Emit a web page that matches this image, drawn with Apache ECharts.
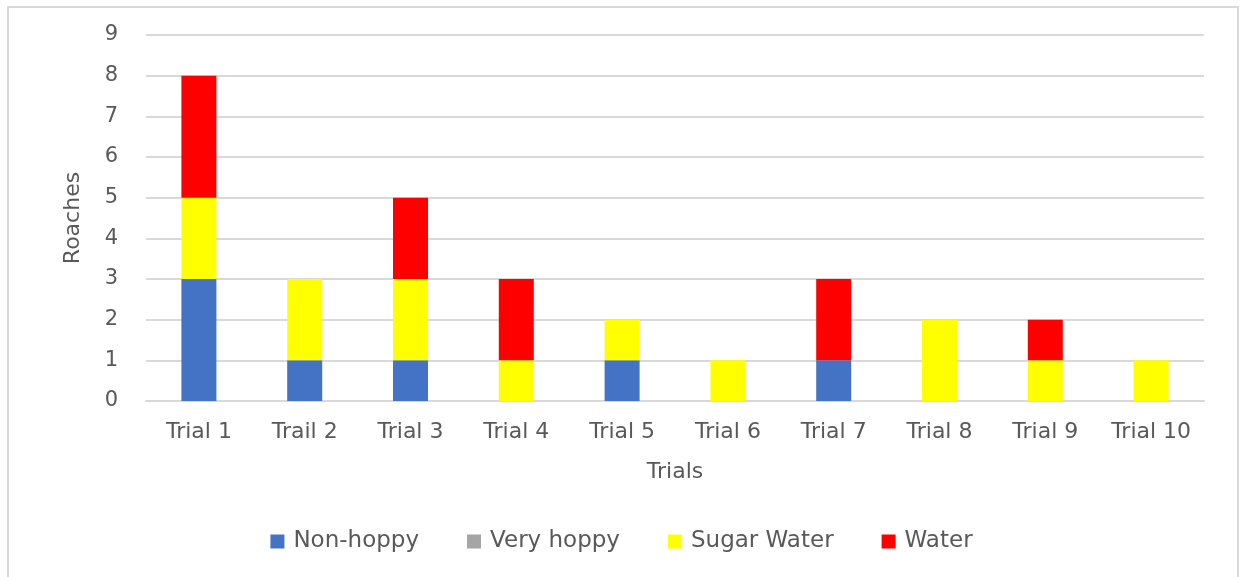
<!DOCTYPE html>
<html>
<head>
<meta charset="utf-8">
<script src="https://cdn.jsdelivr.net/npm/echarts@6/dist/echarts.min.js"></script>
<style>
  html, body { margin: 0; padding: 0; background: #fff; }
  #frame { position: absolute; left: 7px; top: 6px; width: 1232px; height: 580px; border: 2px solid #d9d9d9; box-sizing: border-box; }
  #main { position: absolute; left: 0; top: 0; width: 1243px; height: 577px; }
</style>
</head>
<body>
<div id="frame"></div>
<div id="main"></div>
<script>
// 类别与数据
var trials = ['Trial 1', 'Trail 2', 'Trial 3', 'Trial 4', 'Trial 5', 'Trial 6', 'Trial 7', 'Trial 8', 'Trial 9', 'Trial 10'];
var nonHoppy = [3, 1, 1, 0, 1, 0, 1, 0, 0, 0];
var veryHoppy = [0, 0, 0, 0, 0, 0, 0, 0, 0, 0];
var sugarWater = [2, 2, 2, 1, 1, 1, 0, 2, 1, 1];
var water = [3, 0, 2, 2, 0, 0, 2, 0, 1, 0];

var font = '"DejaVu Sans", sans-serif';
var txt = '#595959';

function bar(name, data, color) {
    return {
        name: name,
        type: 'bar',
        stack: 'all',
        barWidth: 35,
        data: data,
        itemStyle: { color: color }
    };
}

var myChart = echarts.init(document.getElementById('main'));
var option = {
    animation: false,
    textStyle: { fontFamily: font },
    grid: { left: 146, right: 39, top: 35, bottom: 176 },
    legend: {
        bottom: 19,
        left: 'center',
        itemWidth: 14,
        itemHeight: 14,
        itemGap: 48,
        icon: 'rect',
        textStyle: { color: txt, fontSize: 23, fontFamily: font, padding: [0, 0, 0, 4] },
        data: ['Non-hoppy', 'Very hoppy', 'Sugar Water', 'Water']
    },
    xAxis: {
        type: 'category',
        data: trials,
        name: 'Trials',
        nameLocation: 'middle',
        nameGap: 60,
        nameTextStyle: { color: txt, fontSize: 22, fontFamily: font },
        axisTick: { show: false },
        axisLine: { lineStyle: { color: '#d9d9d9', width: 2 } },
        axisLabel: { color: txt, fontSize: 22, margin: 20, fontFamily: font, interval: 0 }
    },
    yAxis: {
        type: 'value',
        min: 0,
        max: 9,
        interval: 1,
        name: 'Roaches',
        nameLocation: 'middle',
        nameGap: 62,
        nameTextStyle: { color: txt, fontSize: 22, fontFamily: font },
        axisLabel: { color: txt, fontSize: 21, margin: 28, fontFamily: font },
        splitLine: { lineStyle: { color: '#d9d9d9', width: 2 } }
    },
    series: [
        bar('Non-hoppy', nonHoppy, '#4472C4'),
        bar('Very hoppy', veryHoppy, '#A5A5A5'),
        bar('Sugar Water', sugarWater, '#FFFF00'),
        bar('Water', water, '#FF0000')
    ]
};
myChart.setOption(option);
</script>
</body>
</html>
